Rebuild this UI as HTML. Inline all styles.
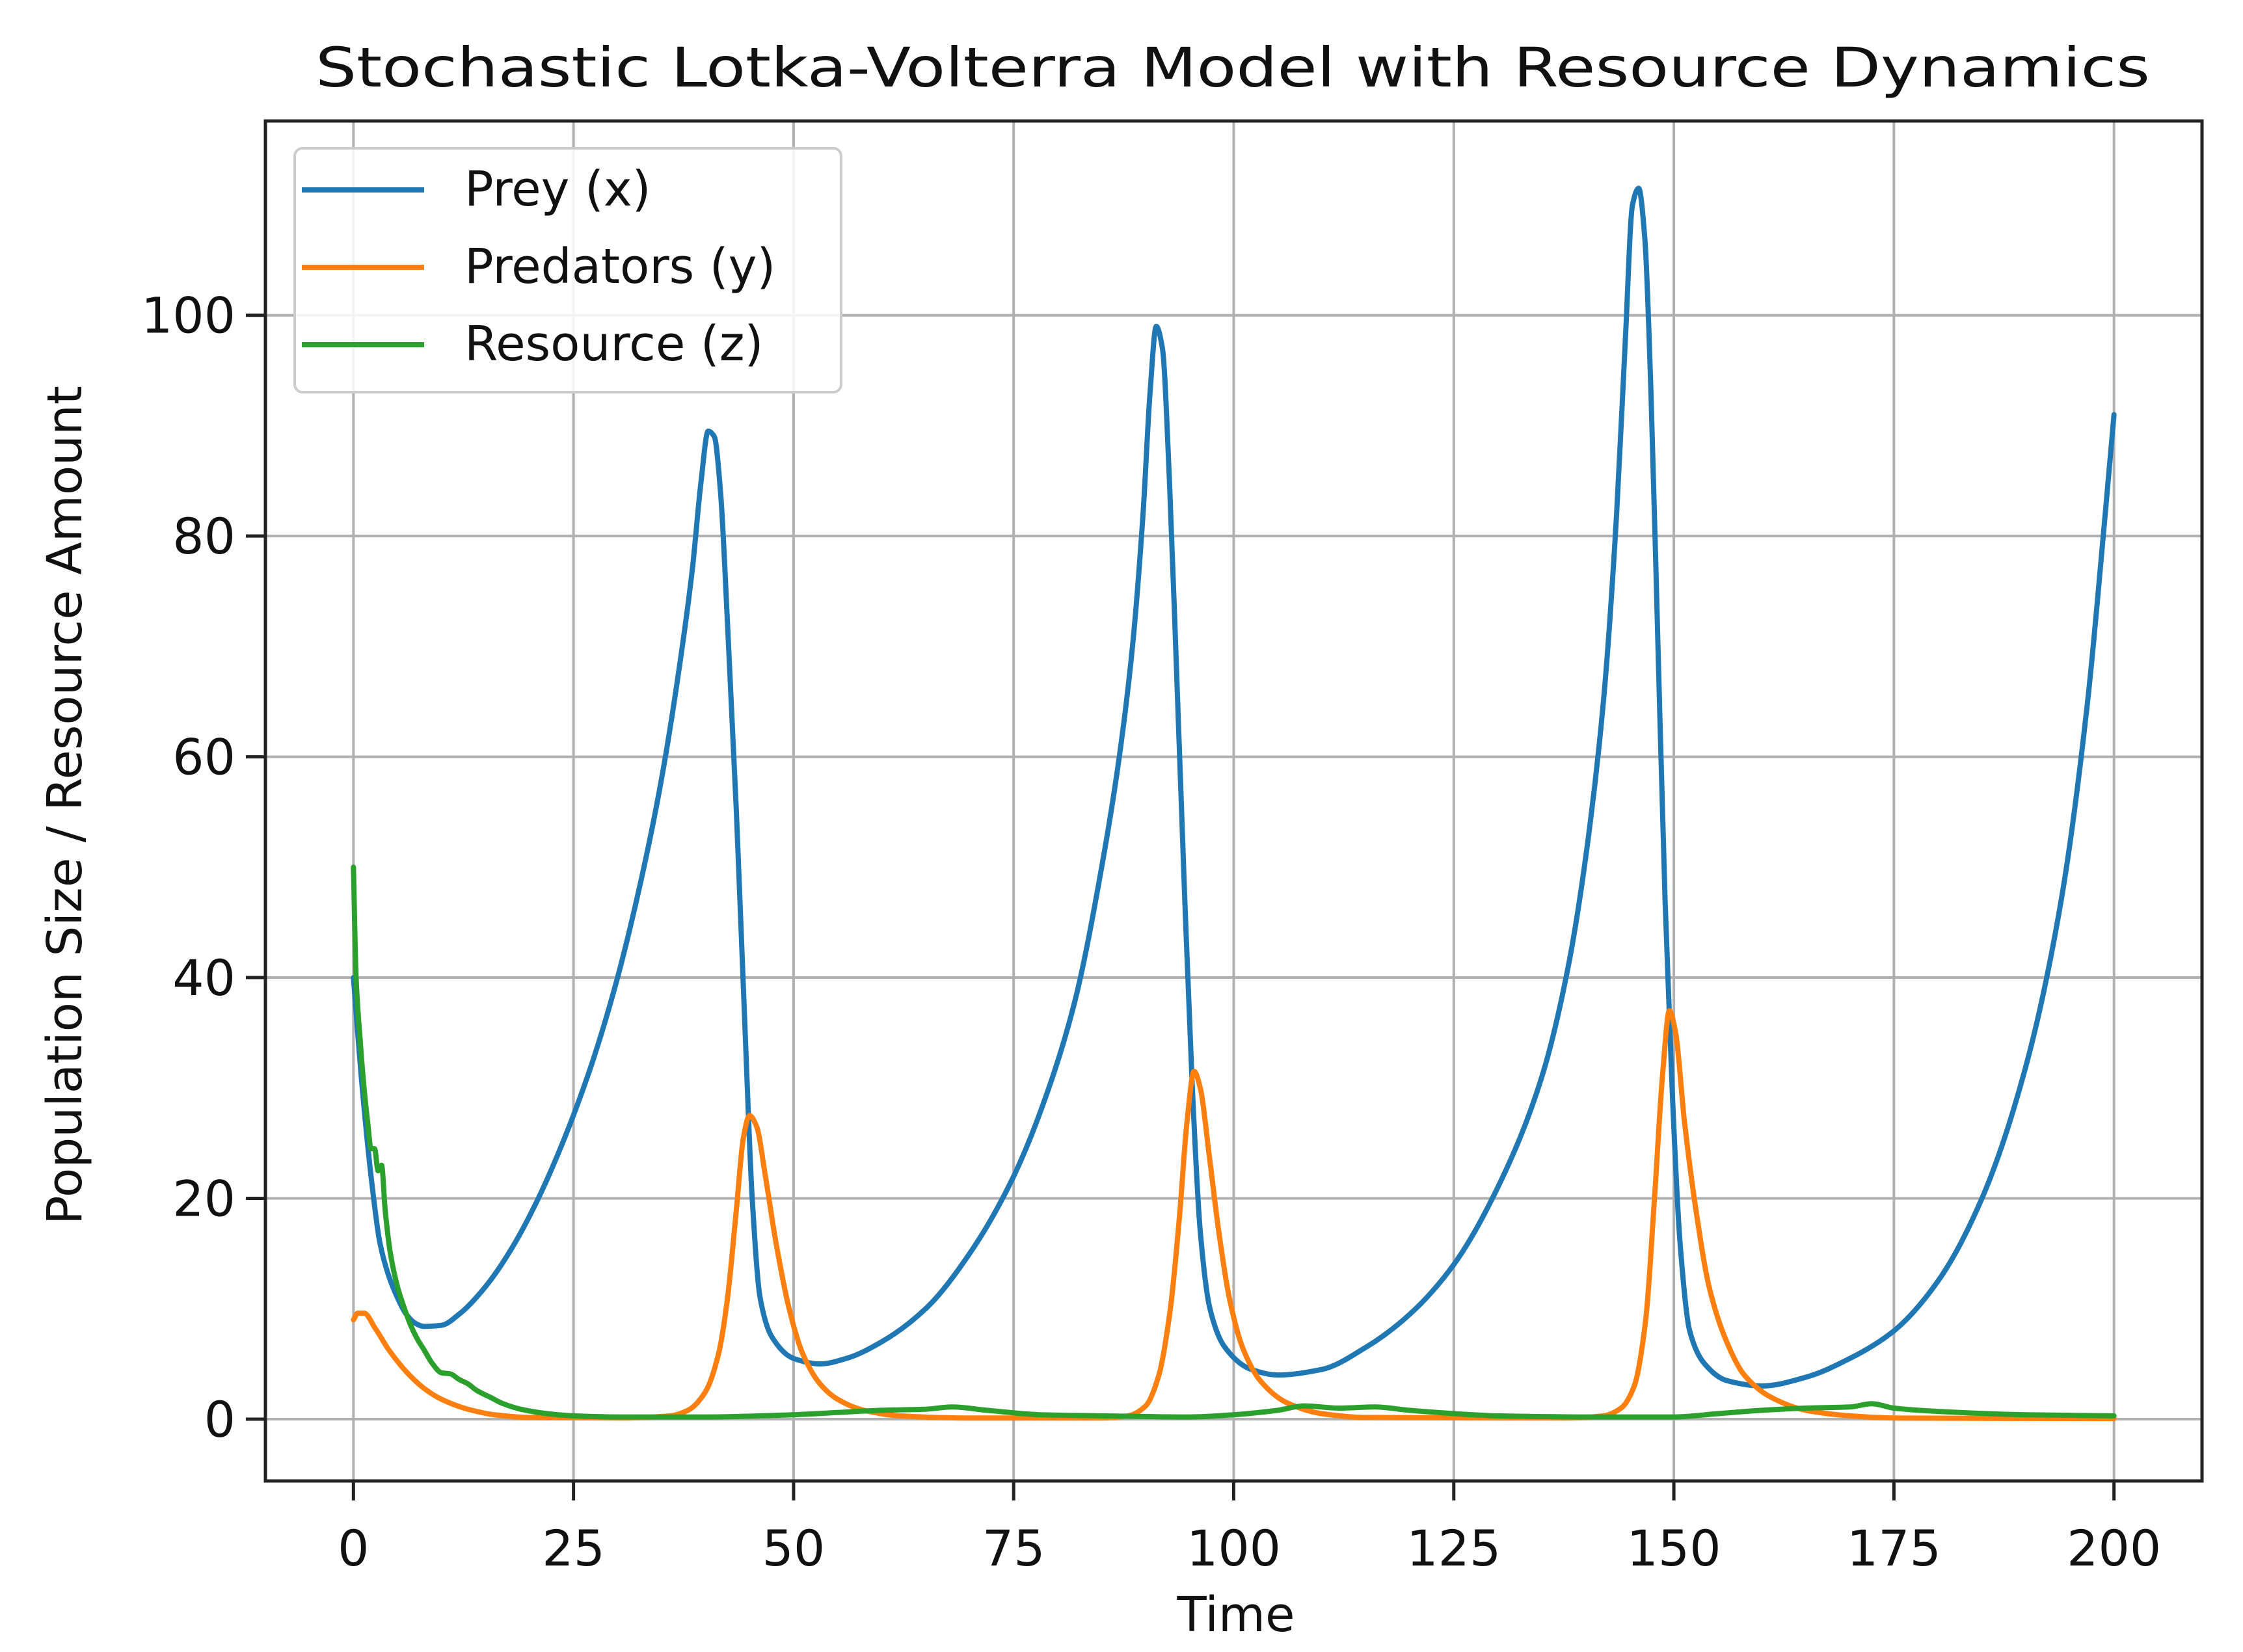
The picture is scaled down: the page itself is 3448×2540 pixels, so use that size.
<!DOCTYPE html>
<html><head><meta charset="utf-8"><style>
html,body{margin:0;padding:0;background:#fff;}
svg{display:block;font-family:"DejaVu Sans","Liberation Sans",sans-serif;}
</style></head><body>
<svg id="chart" width="3448" height="2540" viewBox="0 0 3448 2540" xmlns="http://www.w3.org/2000/svg">
<rect width="3448" height="2540" fill="#fff"/>
<text x="1895" y="133" font-size="84" text-anchor="middle" fill="#111" textLength="2820" lengthAdjust="spacingAndGlyphs">Stochastic Lotka-Volterra Model with Resource Dynamics</text>
<g id="grid"></g>
<g id="series"></g>
<rect x="408" y="186" width="2977" height="2091" fill="none" stroke="#222" stroke-width="5"/>
<g id="ticks"></g>
<text x="1900" y="2508" font-size="74" text-anchor="middle" fill="#111">Time</text>
<text x="0" y="0" font-size="74" text-anchor="middle" fill="#111" transform="translate(125,1238) rotate(-90)">Population Size / Resource Amount</text>
<g>
<rect x="453" y="228" width="840" height="375" rx="12" fill="#fff" fill-opacity="0.85" stroke="#ccc" stroke-width="4"/>
<g><line x1="464" y1="292" x2="652" y2="292" stroke="#1f77b4" stroke-width="8"/><text x="714" y="316" font-size="74" fill="#111">Prey (x)</text></g>
<g><line x1="464" y1="411" x2="652" y2="411" stroke="#ff7f0e" stroke-width="8"/><text x="714" y="435" font-size="74" fill="#111">Predators (y)</text></g>
<g><line x1="464" y1="530" x2="652" y2="530" stroke="#2ca02c" stroke-width="8"/><text x="714" y="554" font-size="74" fill="#111">Resource (z)</text></g>
</g>
</svg>
<script>
const xTicks = [0,25,50,75,100,125,150,175,200];
const yTicks = [0,20,40,60,80,100];
const preyT = [0,1,2,3,4,5,6,7,8,10,12,15,18,21,24,27,30,33,35,37,38.5,39.5,40.3,41,41.7,42.5,43.5,44.5,45.3,46.2,47.5,50,53,56,60,65,70,75,79,82,85,87,88.5,89.7,90.5,91.2,91.9,92.7,93.5,94.4,95.3,96.2,97.3,99,102,105,110,115,120,125,130,135,138,140,142,143.5,144.5,145.3,146,146.7,147.4,148.2,149,149.8,150.7,151.8,153.5,156,160,165,170,175,180,185,190,194,197,199,200];
const preyV = [40,30,22,16,13,11,9.5,8.7,8.4,8.5,9.5,12,15.5,20,25.5,32,40,50,58,68,77,85,89.5,89,84,72,55,35,20,11,7.5,5.5,5,5.5,7,10,15,22,30,38,50,60,70,82,93,99,97,85,68,48,30,17,10,6.5,4.5,4,4.5,6.5,9.5,14,21,31,41,51,65,82,98,110,111.5,107,93,70,47,30,16,8,5,3.5,3,3.8,5.5,8,12.5,20,32,47,65,82,91];
const predT = [0,0.5,1.2,2.5,4,6,8,10,13,16,20,30,36,38,40,41.5,42.5,43.5,44.3,45,45.8,46.8,48,49.5,51,53,55,58,62,70,85,88,90,91.5,92.8,93.8,94.7,95.5,96.2,97.2,98.3,99.5,101,103,106,110,115,138,142,144,145.5,146.8,147.8,148.7,149.5,150.2,151.2,152.5,154,156,158,161,165,170,175,200];
const predV = [9,9.6,9.6,8.2,6.3,4.3,2.8,1.8,0.9,0.4,0.15,0.1,0.3,0.8,2.5,6,11,19,25.5,27.5,26.5,22,16,10,6,3.2,1.8,0.8,0.3,0.1,0.1,0.3,1.2,4,10,18,27,31.5,30,24,17,11,6.5,3.5,1.5,0.5,0.15,0.1,0.3,1,3,9,20,31,37,35,27,19,12,7,4,2,0.8,0.3,0.1,0.05];
const resT = [0,0.3,0.8,1.2,1.6,2,2.4,2.8,3.2,3.6,4.2,5,5.8,6.5,7.3,8,9,10,11,12,13,14,15.5,17,19,22,25,30,40,50,55,60,65,68,72,78,85,95,100,105,108,112,116,120,125,130,140,150,155,160,165,170,172.5,175,180,190,200];
const resV = [50,40,34,30,27,24.5,24.5,22.5,23,19,15,12,10,8.5,7.2,6.3,5,4.2,4.1,3.6,3.2,2.6,2,1.4,0.9,0.5,0.3,0.2,0.2,0.4,0.6,0.8,0.9,1.1,0.8,0.4,0.3,0.2,0.4,0.8,1.2,1,1.1,0.8,0.5,0.3,0.2,0.2,0.5,0.8,1,1.1,1.4,1,0.7,0.4,0.3];

const NS='http://www.w3.org/2000/svg';
const X0=408,X1=3385,Y0=186,Y1=2277,xmin=-10,xmax=210,ymin=-5.6,ymax=117.6;
function sx(t){return X0+(t-xmin)/(xmax-xmin)*(X1-X0);}
function sy(v){return Y1-(v-ymin)/(ymax-ymin)*(Y1-Y0);}
function mk(tag,attrs,parent){const e=document.createElementNS(NS,tag);for(const k in attrs)e.setAttribute(k,attrs[k]);parent.appendChild(e);return e;}
const grid=document.getElementById('grid'),ticks=document.getElementById('ticks'),series=document.getElementById('series');
xTicks.forEach(t=>{
  const g=mk('line',{x1:sx(t),x2:sx(t),y1:Y0,y2:Y1,stroke:'#b0b0b0','stroke-width':4},grid);
  
  
  const tk=mk('line',{x1:sx(t),x2:sx(t),y1:Y1,y2:Y1+30,stroke:'#222','stroke-width':5},ticks);
  
  
  const lb=mk('text',{x:sx(t),y:2407,'font-size':76,'text-anchor':'middle',fill:'#111'},ticks);
  lb.textContent=t;
  
  
});
yTicks.forEach(v=>{
  const g=mk('line',{x1:X0,x2:X1,y1:sy(v),y2:sy(v),stroke:'#b0b0b0','stroke-width':4},grid);
  
  
  const tk=mk('line',{x1:X0-30,x2:X0,y1:sy(v),y2:sy(v),stroke:'#222','stroke-width':5},ticks);
  
  
  const lb=mk('text',{x:X0-46,y:sy(v)+27,'font-size':76,'text-anchor':'end',fill:'#111'},ticks);
  lb.textContent=v;
  
  
});
function monoPath(xs,ys){
  const n=xs.length,d=[],m=new Array(n);
  for(let i=0;i<n-1;i++)d.push((ys[i+1]-ys[i])/(xs[i+1]-xs[i]));
  m[0]=d[0];m[n-1]=d[n-2];
  for(let i=1;i<n-1;i++){
    if(d[i-1]*d[i]<=0)m[i]=0;
    else{const w1=2*(xs[i+1]-xs[i])+(xs[i]-xs[i-1]),w2=(xs[i+1]-xs[i])+2*(xs[i]-xs[i-1]);m[i]=(w1+w2)/(w1/d[i-1]+w2/d[i]);}
  }
  let p='M'+xs[0].toFixed(1)+','+ys[0].toFixed(1);
  for(let i=0;i<n-1;i++){
    const h=(xs[i+1]-xs[i])/3;
    p+=' C'+(xs[i]+h).toFixed(1)+','+(ys[i]+m[i]*h).toFixed(1)+' '+(xs[i+1]-h).toFixed(1)+','+(ys[i+1]-m[i+1]*h).toFixed(1)+' '+xs[i+1].toFixed(1)+','+ys[i+1].toFixed(1);
  }
  return p;
}
function line(ts,vs,color,name){
  const p=mk('path',{d:monoPath(ts.map(sx),vs.map(sy)),fill:'none',stroke:color,'stroke-width':8,'stroke-linejoin':'round','stroke-linecap':'round'},series);
  
  
}
line(preyT,preyV,'#1f77b4','prey-line');
line(predT,predV,'#ff7f0e','predators-line');
line(resT,resV,'#2ca02c','resource-line');
</script>
</body></html>
